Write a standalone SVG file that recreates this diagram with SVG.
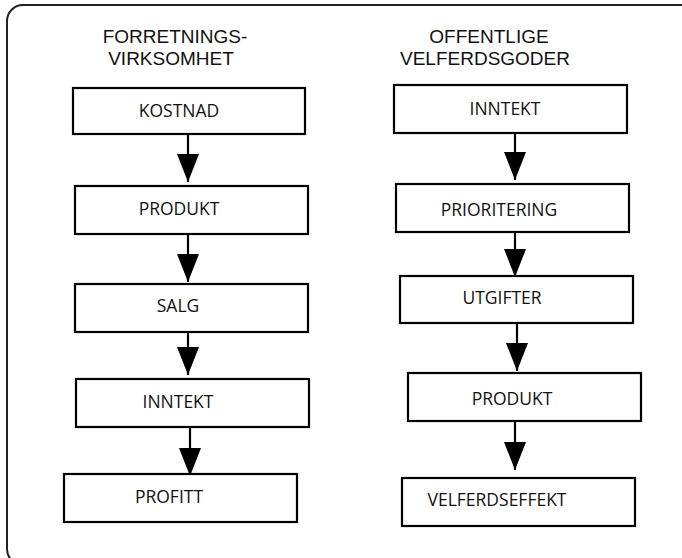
<svg xmlns="http://www.w3.org/2000/svg" width="682" height="558" viewBox="0 0 682 558">
<style>
  .box rect { fill: #fff; stroke: #000; stroke-width: 2.2; }
  .box text { font-family: "Open Sans", "Liberation Sans", sans-serif; font-size: 17.5px; fill: #111; text-anchor: middle; }
  .title { font-family: "Liberation Sans", Arial, sans-serif; font-size: 19px; fill: #111; text-anchor: middle; }
  .conn line { stroke: #000; stroke-width: 2.2; }
</style>
<defs>
  <marker id="ah" markerUnits="userSpaceOnUse" viewBox="0 -11 28 22" refX="28" refY="0" markerWidth="28" markerHeight="22" orient="auto">
    <path d="M0,-11 L28,0 L0,11 Z" fill="#000"/>
  </marker>
</defs>
<rect x="7" y="5" width="690" height="560" rx="16" ry="16" fill="#fff" stroke="#222" stroke-width="2"/>
<g id="title-left">
  <text class="title" x="175" y="42.5">FORRETNINGS-</text>
  <text class="title" x="171" y="65">VIRKSOMHET</text>
</g>
<g id="title-right">
  <text class="title" x="489" y="42.5">OFFENTLIGE</text>
  <text class="title" x="485" y="65">VELFERDSGODER</text>
</g>
<g class="conn">
  <line x1="188" y1="134" x2="188" y2="182" marker-end="url(#ah)"/>
  <line x1="188" y1="234" x2="188" y2="282" marker-end="url(#ah)"/>
  <line x1="188" y1="332" x2="188" y2="375" marker-end="url(#ah)"/>
  <line x1="190" y1="427" x2="190" y2="476" marker-end="url(#ah)"/>
  <line x1="515" y1="132" x2="515" y2="180" marker-end="url(#ah)"/>
  <line x1="515" y1="232" x2="515" y2="277" marker-end="url(#ah)"/>
  <line x1="517" y1="323" x2="517" y2="371" marker-end="url(#ah)"/>
  <line x1="515" y1="421" x2="515" y2="470" marker-end="url(#ah)"/>
</g>
<g id="kostnad" class="box"><rect x="73" y="88" width="232" height="46"/><text x="179" y="116.5">KOSTNAD</text></g>
<g id="produkt-l" class="box"><rect x="75" y="186" width="233" height="48"/><text x="179" y="215">PRODUKT</text></g>
<g id="salg" class="box"><rect x="75" y="284" width="233" height="48"/><text x="178" y="312">SALG</text></g>
<g id="inntekt-l" class="box"><rect x="76" y="379" width="233" height="48"/><text x="178" y="407.5">INNTEKT</text></g>
<g id="profitt" class="box"><rect x="64" y="474" width="233" height="48"/><text x="169" y="502.5">PROFITT</text></g>
<g id="inntekt-r" class="box"><rect x="394" y="85" width="233" height="48"/><text x="505" y="115">INNTEKT</text></g>
<g id="prioritering" class="box"><rect x="396" y="184" width="233" height="48"/><text x="499" y="216">PRIORITERING</text></g>
<g id="utgifter" class="box"><rect x="400" y="276" width="233" height="47"/><text x="502" y="304">UTGIFTER</text></g>
<g id="produkt-r" class="box"><rect x="408" y="373" width="233" height="48"/><text x="512" y="405">PRODUKT</text></g>
<g id="velferdseffekt" class="box"><rect x="402" y="478" width="233" height="48"/><text x="497" y="505.5">VELFERDSEFFEKT</text></g>
</svg>
